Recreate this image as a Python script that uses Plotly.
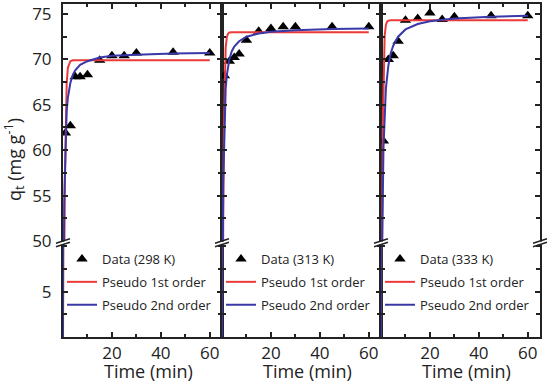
import plotly.graph_objects as go
from plotly.subplots import make_subplots

# ---------------- data ----------------
t_data = [1, 3, 5, 7, 10, 15, 20, 25, 30, 45, 60]
q_298 = [61.9, 62.7, 68.1, 68.1, 68.3, 69.9, 70.4, 70.4, 70.7, 70.8, 70.7]
q_313 = [68.2, 69.8, 70.2, 70.6, 72.1, 73.1, 73.4, 73.6, 73.6, 73.6, 73.6]
q_333 = [61.0, 70.0, 70.4, 72.0, 74.3, 74.5, 75.1, 74.4, 74.7, 74.8, 74.8]

t_pfo = [0, 0.1, 0.25, 0.5, 0.75, 1, 1.25, 1.5, 2, 2.5, 3, 4, 60]
pfo_298 = [0, 13.8, 29.6, 46.6, 56.5, 62.1, 65.4, 67.3, 69.1, 69.6, 69.8, 69.9, 69.9]
pfo_313 = [0, 16.2, 33.9, 52.0, 61.8, 67.0, 69.8, 71.3, 72.5, 72.85, 72.96, 73.0, 73.0]
pfo_333 = [0, 16.4, 34.5, 53.0, 62.9, 68.2, 71.0, 72.6, 73.8, 74.15, 74.25, 74.3, 74.3]

t_pso = [0, 0.1, 0.25, 0.5, 1, 1.5, 2, 3, 4, 5, 7, 10, 15, 20, 30, 45, 60]
pso_298 = [0, 27.9, 43.9, 54.2, 61.4, 64.3, 65.8, 67.4, 68.3, 68.8, 69.4, 69.8, 70.2, 70.4, 70.5, 70.65, 70.7]
pso_313 = [0, 29.0, 45.6, 56.3, 63.8, 66.8, 68.3, 70.0, 70.9, 71.4, 72.0, 72.5, 72.85, 73.04, 73.2, 73.35, 73.4]
pso_333 = [0, 21.5, 37.6, 50.1, 60.1, 64.4, 66.8, 69.3, 70.7, 71.5, 72.5, 73.3, 73.9, 74.2, 74.5, 74.7, 74.8]

temps = ["298 K", "313 K", "333 K"]
data_q = [q_298, q_313, q_333]
pfo = [pfo_298, pfo_313, pfo_333]
pso = [pso_298, pso_313, pso_333]

upper_ticks = [50, 55, 60, 65, 70, 75]
lower_ticks = [5]
x_ticks = [20, 40, 60]

# ---------------- layout constants ----------------
W, H = 550, 383
ML, MR, MT, MB = 63, 10, 4, 46
PW, PH = W - ML - MR, H - MT - MB
LOWER_FRAC = 96 / PH

RED = "#ec3a3a"
BLUE = "#3838a8"
FONT = "Open Sans"
INK = "#222"

fig = make_subplots(rows=2, cols=3, horizontal_spacing=0, vertical_spacing=0,
                    row_heights=[1 - LOWER_FRAC, LOWER_FRAC])

legend_names = ["legend", "legend2", "legend3"]
for c in range(3):
    lg = legend_names[c]
    for r in (1, 2):
        show = (r == 2)
        fig.add_trace(go.Scatter(
            x=t_data, y=data_q[c], mode="markers",
            marker=dict(symbol="triangle-up", size=10, color="black"),
            name=f"Data ({temps[c]})", legend=lg, showlegend=show,
            legendgroup=f"d{c}"), row=r, col=c + 1)
        fig.add_trace(go.Scatter(
            x=t_pfo, y=pfo[c], mode="lines", line=dict(color=RED, width=2),
            name="Pseudo 1st order", legend=lg, showlegend=show,
            legendgroup=f"a{c}"), row=r, col=c + 1)
        fig.add_trace(go.Scatter(
            x=t_pso, y=pso[c], mode="lines", line=dict(color=BLUE, width=2),
            name="Pseudo 2nd order", legend=lg, showlegend=show,
            legendgroup=f"b{c}"), row=r, col=c + 1)

axis_common = dict(showline=True, linecolor=INK, linewidth=2, ticks="inside",
                   tickcolor=INK, tickwidth=1.5, showgrid=False, zeroline=False,
                   automargin=False,
                   tickfont=dict(family=FONT, size=17, color=INK))
minor_x = dict(dtick=10, tick0=0, ticklen=3, ticks="inside", tickcolor=INK)
minor_y = dict(dtick=2.5, tick0=0, ticklen=4, ticks="inside", tickcolor=INK)

for c in range(3):
    fig.update_xaxes(row=1, col=c + 1, range=[0, 65], side="top", showticklabels=False,
                     tickvals=x_ticks, ticklen=5, minor=minor_x, **axis_common)
    fig.update_xaxes(row=2, col=c + 1, range=[0, 65], tickvals=x_ticks, ticklen=5,
                     ticklabelstandoff=0, minor=minor_x, **axis_common)
    fig.update_yaxes(row=1, col=c + 1, range=[50, 76.1], tickvals=upper_ticks, ticklen=5,
                     mirror="ticks", showticklabels=(c == 0), ticklabelstandoff=6,
                     minor=minor_y, **axis_common)
    fig.update_yaxes(row=2, col=c + 1, range=[0, 10.6], tickvals=lower_ticks, ticklen=5,
                     mirror="ticks", showticklabels=(c == 0), ticklabelstandoff=6,
                     minor=minor_y, **axis_common)


def px2paper(px, py):
    return (px - ML) / PW, (H - MB - py) / PH


shapes = []
break_y = H - MB - 96
for bx in [ML, ML + PW / 3, ML + 2 * PW / 3, ML + PW]:
    x0, y0 = px2paper(bx, break_y + 0.6)
    x1, y1 = px2paper(bx, break_y + 3.6)
    shapes.append(dict(type="line", xref="paper", yref="paper", x0=x0, y0=y0, x1=x1, y1=y1,
                       line=dict(color="white", width=5)))
    for off in (0.0, 3.5):
        a0, b0 = px2paper(bx - 7, break_y + 2.3 + off)
        a1, b1 = px2paper(bx + 7, break_y - 2.3 + off)
        shapes.append(dict(type="line", xref="paper", yref="paper", x0=a0, y0=b0, x1=a1, y1=b1,
                           line=dict(color=INK, width=1.5)))

legend_style = dict(font=dict(family=FONT, size=13, color=INK), bgcolor="rgba(0,0,0,0)",
                    xanchor="left", yanchor="top", tracegroupgap=3, itemwidth=30)
legends = {}
for c in range(3):
    lx, ly = px2paper(ML + c * PW / 3 - 1, 244)
    legends[legend_names[c]] = dict(x=lx, y=ly, **legend_style)

annotations = []
yx, yy = px2paper(14, 160)
annotations.append(dict(text="q<sub>t</sub> (mg g<sup>-1</sup>)", xref="paper", yref="paper",
                        x=yx, y=yy, xanchor="center", yanchor="middle", textangle=-90,
                        showarrow=False, font=dict(family=FONT, size=18, color=INK)))
for c in range(3):
    tx, ty = px2paper(ML + c * PW / 3 + 85, 371)
    annotations.append(dict(text="Time (min)", xref="paper", yref="paper", x=tx, y=ty,
                            xanchor="center", yanchor="middle",
                            showarrow=False, font=dict(family=FONT, size=18, color=INK)))

fig.update_layout(
    width=W, height=H, margin=dict(l=ML, r=MR, t=MT, b=MB, autoexpand=False),
    plot_bgcolor="white", paper_bgcolor="white",
    font=dict(family=FONT, color=INK),
    shapes=shapes,
    annotations=annotations,
    **legends,
)

fig.write_html("out.html", config={"displayModeBar": False},
               post_script="document.body.style.margin='0';document.body.style.overflow='hidden';")
